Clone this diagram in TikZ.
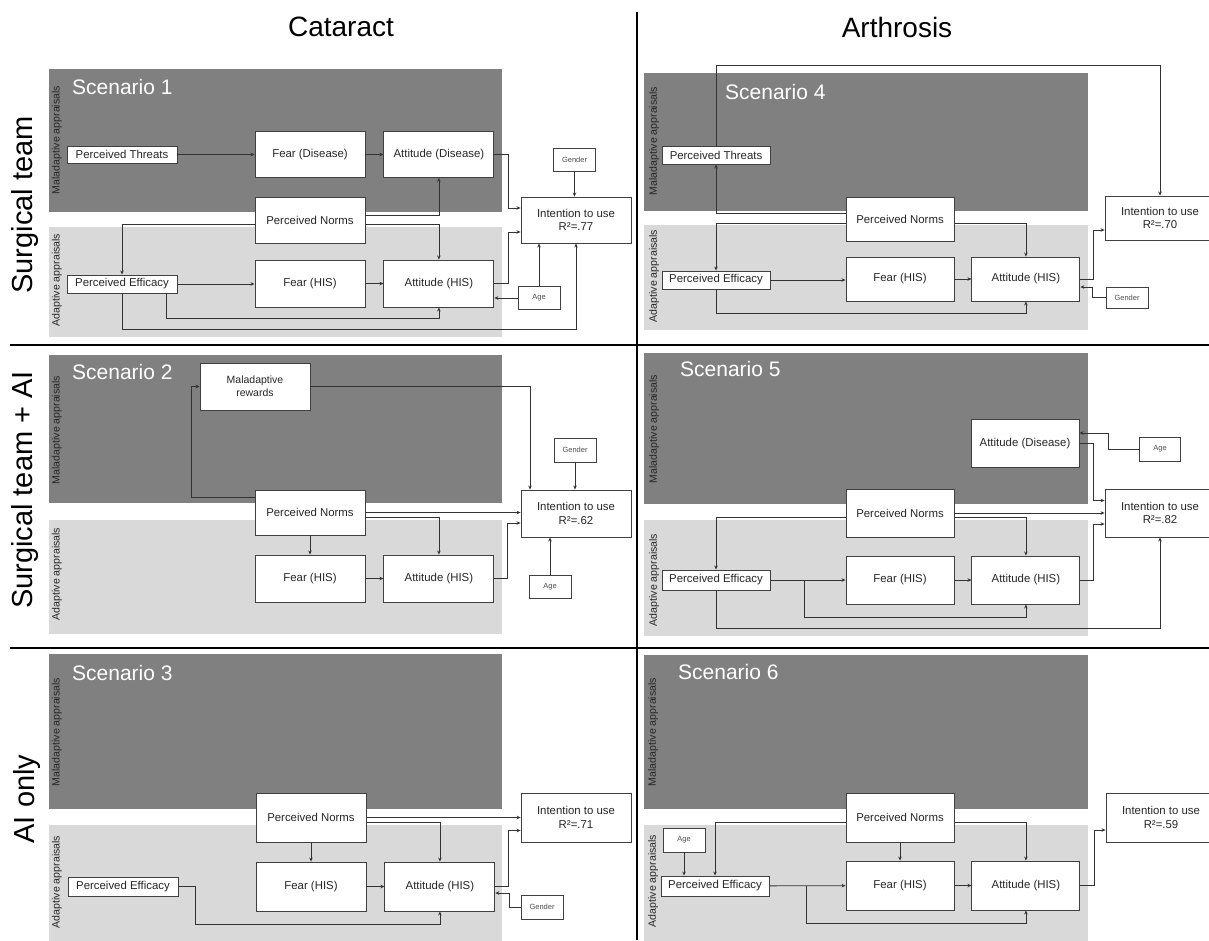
\documentclass[tikz,border=0pt]{standalone}
\usepackage{fontspec}
\setmainfont{Liberation Sans}
\usetikzlibrary{positioning,arrows.meta}

\begin{document}
\begin{tikzpicture}[
  x=1pt, y=-1pt,
  font=\fontsize{11.4}{13.6}\selectfont,
  malzone/.style={fill=black!50},
  adzone/.style={fill=black!15},
  box/.style={draw=black!75, line width=0.9pt, fill=white, text=black!85, align=center, inner sep=0pt},
  bigbox/.style={box, minimum width=#1, minimum height=46pt},
  bigbox/.default=110pt,
  slimbox/.style={box, minimum width=#1, minimum height=18pt},
  slimbox/.default=110pt,
  covbox/.style={box, minimum width=42pt, minimum height=23pt, font=\fontsize{7.5}{9}\selectfont, text=black!70},
  scenlbl/.style={anchor=west, inner sep=0pt, text=white, font=\fontsize{21}{24}\selectfont},
  zonelbl/.style={rotate=90, inner sep=0pt, text=black!85, font=\fontsize{10.6}{12}\selectfont},
  colhead/.style={font=\fontsize{28}{32}\selectfont},
  rowhead/.style={rotate=90, inner sep=0pt, font=\fontsize{29}{33}\selectfont},
  link/.style={-{Stealth[length=4pt,width=3.5pt]}, draw=black!80, line width=0.8pt},
  divider/.style={line width=2.4pt}
]
  \useasboundingbox (0,0) rectangle (1209,940);
  \clip (0,0) rectangle (1209,940);

  % grid of conditions
  \node[colhead] (hCat) at (341,27) {Cataract};
  \node[colhead] (hArt) at (897,27) {Arthrosis};
  \node[rowhead] (rTeam) at (25,205) {Surgical team};
  \node[rowhead] (rTeamAI) at (25,490) {Surgical team + AI};
  \node[rowhead] (rAI) at (27,799) {AI only};
  \draw[divider] (637,12) -- (637,940);
  \draw[divider] (10,345) -- (1209,345);
  \draw[divider] (10,648) -- (1209,648);

  % appraisal zones
  \fill[malzone] (48.6,69) rectangle (502,212);
  \fill[adzone] (48.6,227) rectangle (502,337);
  \fill[malzone] (644,73) rectangle (1088,211);
  \fill[adzone] (644,225) rectangle (1088,330);
  \fill[malzone] (48.6,355) rectangle (502,503);
  \fill[adzone] (48.6,520) rectangle (502,634);
  \fill[malzone] (644,353) rectangle (1088,504);
  \fill[adzone] (644,520) rectangle (1088,636);
  \fill[malzone] (48.6,654) rectangle (502,809);
  \fill[adzone] (48.6,825) rectangle (502,945);
  \fill[malzone] (644,655) rectangle (1088,809);
  \fill[adzone] (644,825) rectangle (1088,945);

  \node[scenlbl] (s1) at (72,87) {Scenario 1};
  \node[scenlbl] (s4) at (725,92) {Scenario 4};
  \node[scenlbl] (s2) at (72,372) {Scenario 2};
  \node[scenlbl] (s5) at (680,369) {Scenario 5};
  \node[scenlbl] (s3) at (72,673) {Scenario 3};
  \node[scenlbl] (s6) at (678,672) {Scenario 6};

  \node[zonelbl] (z1m) at (57,140) {Maladaptive appraisals};
  \node[zonelbl] (z1a) at (57,280) {Adaptive appraisals};
  \node[zonelbl] (z4m) at (654,141) {Maladaptive appraisals};
  \node[zonelbl] (z4a) at (654,276) {Adaptive appraisals};
  \node[zonelbl] (z2m) at (57,430) {Maladaptive appraisals};
  \node[zonelbl] (z2a) at (57,574) {Adaptive appraisals};
  \node[zonelbl] (z5m) at (654,429) {Maladaptive appraisals};
  \node[zonelbl] (z5a) at (654,580) {Adaptive appraisals};
  \node[zonelbl] (z3m) at (57,732) {Maladaptive appraisals};
  \node[zonelbl] (z3a) at (57,882) {Adaptive appraisals};
  \node[zonelbl] (z6m) at (653,732) {Maladaptive appraisals};
  \node[zonelbl] (z6a) at (653,881) {Adaptive appraisals};

  % scenario 1
  \node[slimbox, minimum height=17pt] (aThr) at (122,154.5) {Perceived Threats};
  \node[bigbox] (aFD) at (310,154.5) {Fear (Disease)};
  \node[bigbox, right=18pt of aFD] (aAD) {Attitude (Disease)};
  \node[covbox] (aGen) at (574.5,159.5) {Gender};
  \node[bigbox] (aInt) at (576,220) {Intention to use\\R²=.77};
  \node[bigbox] (aNorm) at (310,220.5) {Perceived Norms};
  \node[slimbox] (aEff) at (122,284) {Perceived Efficacy};
  \node[bigbox, minimum height=47pt] (aFH) at (310,283.5) {Fear (HIS)};
  \node[bigbox, minimum height=47pt, right=18pt of aFH] (aAH) {Attitude (HIS)};
  \node[covbox] (aAge) at (539,298) {Age};

  \draw[link] (aThr) -- (aFD);
  \draw[link] (aFD) -- (aAD);
  \draw[link] (aAD.east) -- ++(14,0) |- ([yshift=12pt]aInt.west);
  \draw[link] (aGen.south) -- (aGen.south |- aInt.north);
  \draw[link] ([yshift=5.5pt]aNorm.east) -| (aAD.south);
  \draw[link] ([yshift=-3.5pt]aNorm.east) -| (aAH.north);
  \draw[link] ([yshift=-3.5pt]aNorm.west) -| (aEff.north);
  \draw[link] (aEff.east) -- (aEff.east -| aFH.west);
  \draw[link] (aFH) -- (aAH);
  \draw[link] (aAH.east) -- ++(14,0) |- ([yshift=-12pt]aInt.west);
  \draw[link] (aAge.north) -- (aAge.north |- aInt.south);
  \draw[link] (aAge.west) -- (aAge.west -| aAH.east);
  \draw[link] ([xshift=44pt]aEff.south) -- ++(0,25) -| (aAH.south);
  \draw[link] (aEff.south) -- ++(0,36) -| (aInt.south);

  % scenario 4
  \node[slimbox=108pt] (dThr) at (716,155) {Perceived Threats};
  \node[bigbox=108pt, minimum height=44pt] (dNorm) at (900,219) {Perceived Norms};
  \node[bigbox, minimum height=44pt] (dInt) at (1160,218) {Intention to use\\R²=.70};
  \node[slimbox=108pt] (dEff) at (716,280) {Perceived Efficacy};
  \node[bigbox=108pt, minimum height=44pt] (dFH) at (900,279) {Fear (HIS)};
  \node[bigbox=108pt, minimum height=44pt, right=17pt of dFH] (dAH) {Attitude (HIS)};
  \node[covbox, minimum height=21pt] (dGen) at (1127,297.5) {Gender};

  \draw[link] ([yshift=6pt]dNorm.west) -| (dThr.south);
  \draw[link] (dThr.north) -- ++(0,-80) -| (dInt.north);
  \draw[link] ([yshift=-4pt]dNorm.west) -| (dEff.north);
  \draw[link] ([yshift=-4pt]dNorm.east) -| (dAH.north);
  \draw[link] (dEff.east) -- (dEff.east -| dFH.west);
  \draw[link] (dFH) -- (dAH);
  \draw[link] (dAH.east) -- ++(13,0) |- ([yshift=-12pt]dInt.west);
  \draw[link] (dGen.west) -- ++(-13,0) |- ([yshift=-8pt]dAH.east);
  \draw[link] (dEff.south) -- ++(0,24) -| (dAH.south);

  % scenario 2
  \node[bigbox, minimum height=47pt, font=\fontsize{10.5}{13.3}\selectfont] (bRew) at (255,386.5) {Maladaptive\\rewards};
  \node[covbox, minimum height=24pt] (bGen) at (575,450) {Gender};
  \node[bigbox, minimum height=47pt] (bInt) at (576,513.5) {Intention to use\\R²=.62};
  \node[bigbox, minimum height=45pt] (bNorm) at (310,512.5) {Perceived Norms};
  \node[bigbox, minimum height=47pt] (bFH) at (310,578.5) {Fear (HIS)};
  \node[bigbox, minimum height=47pt, right=18pt of bFH] (bAH) {Attitude (HIS)};
  \node[covbox] (bAge) at (550,587) {Age};

  \draw[link] ([yshift=15.5pt]bNorm.west) -- ++(-63.5,0) |- (bRew.west);
  \draw[link] (bRew.east) -| ([xshift=-46pt]bInt.north);
  \draw[link] (bGen.south) -- (bGen.south |- bInt.north);
  \draw[link] (bNorm.east) -- (bNorm.east -| bInt.west);
  \draw[link] ([yshift=-4.5pt]bNorm.east) -| (bAH.north);
  \draw[link] (bNorm) -- (bFH);
  \draw[link] (bFH) -- (bAH);
  \draw[link] (bAH.east) -- ++(13,0) |- ([yshift=-9.5pt]bInt.west);
  \draw[link] (bAge.north) -- (bAge.north |- bInt.south);

  % scenario 5
  \node[bigbox=108pt, minimum height=48pt] (eAD) at (1025,443.5) {Attitude (Disease)};
  \node[covbox, minimum width=41pt, minimum height=24pt] (eAge) at (1160,449) {Age};
  \node[bigbox, minimum height=48pt] (eInt) at (1160,513) {Intention to use\\R²=.82};
  \node[bigbox=108pt, minimum height=48pt] (eNorm) at (900,513) {Perceived Norms};
  \node[slimbox=108pt, minimum height=20pt] (eEff) at (716,580) {Perceived Efficacy};
  \node[bigbox=108pt, minimum height=48pt] (eFH) at (900,580) {Fear (HIS)};
  \node[bigbox=108pt, minimum height=48pt, right=17pt of eFH] (eAH) {Attitude (HIS)};

  \draw[link] (eAge.west) -- ++(-30.5,0) |- ([yshift=10.5pt]eAD.east);
  \draw[link] (eAD.east) -- ++(14,0) |- ([yshift=12.5pt]eInt.west);
  \draw[link] (eNorm.east) -- (eNorm.east -| eInt.west);
  \draw[link] ([yshift=-4pt]eNorm.east) -| (eAH.north);
  \draw[link] ([yshift=-4pt]eNorm.west) -| (eEff.north);
  \draw[link] (eEff) -- (eFH);
  \draw[link] ([xshift=34pt]eEff.east) -- ++(0,37) -| (eAH.south);
  \draw[link] (eFH) -- (eAH);
  \draw[link] (eAH.east) -- ++(13,0) |- ([yshift=-11pt]eInt.west);
  \draw[link] (eEff.south) -- ++(0,38) -| (eInt.south);

  % scenario 3
  \node[bigbox, minimum height=49pt] (cNorm) at (311,817.5) {Perceived Norms};
  \node[bigbox, minimum height=49pt] (cInt) at (576,817.5) {Intention to use\\R²=.71};
  \node[bigbox, minimum height=49pt] (cFH) at (311,886.5) {Fear (HIS)};
  \node[bigbox, minimum height=49pt, right=18pt of cFH] (cAH) {Attitude (HIS)};
  \node[slimbox, minimum height=19pt] (cEff) at (123,886.5) {Perceived Efficacy};
  \node[covbox, minimum height=24pt] (cGen) at (542,907) {Gender};

  \draw[link] (cNorm.east) -- (cInt.west);
  \draw[link] ([yshift=-4.5pt]cNorm.east) -| (cAH.north);
  \draw[link] (cNorm) -- (cFH);
  \draw[link] (cFH) -- (cAH);
  \draw[link] (cAH.east) -- ++(13,0) |- ([yshift=-13pt]cInt.west);
  \draw[link] (cGen.west) -- ++(-11,0) |- ([yshift=-6.5pt]cAH.east);
  \draw[link] (cEff.east) -- ++(17,0) -- ++(0,37.5) -| (cAH.south);

  % scenario 6
  \node[bigbox=108pt, minimum height=49pt] (fNorm) at (900,817.5) {Perceived Norms};
  \node[bigbox, minimum height=49pt] (fInt) at (1161,817.5) {Intention to use\\R²=.59};
  \node[covbox, minimum height=24pt] (fAge) at (684,840) {Age};
  \node[slimbox=108pt, minimum height=20pt] (fEff) at (715,886) {Perceived Efficacy};
  \node[bigbox=108pt, minimum height=49pt] (fFH) at (900,885.5) {Fear (HIS)};
  \node[bigbox=108pt, minimum height=49pt, right=17pt of fFH] (fAH) {Attitude (HIS)};

  \draw[link] (fAge.south) -- (fAge.south |- fEff.north);
  \draw[link] ([yshift=-4.5pt]fNorm.west) -| (fEff.north);
  \draw[link] ([yshift=-4.5pt]fNorm.east) -| (fAH.north);
  \draw[link] (fNorm) -- (fFH);
  \draw[link] (fEff) -- (fFH);
  \draw[link] ([xshift=37pt]fEff.east) -- ++(0,37) -| (fAH.south);
  \draw[link] (fFH) -- (fAH);
  \draw[link] (fAH.east) -- ++(14,0) |- ([yshift=-12.5pt]fInt.west);
\end{tikzpicture}
\end{document}
